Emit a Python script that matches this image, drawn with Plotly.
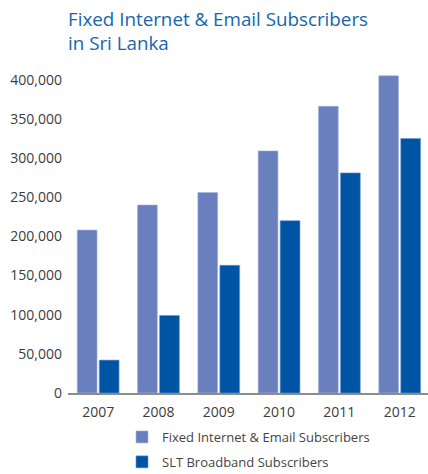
import plotly.graph_objects as go

# Subscriber counts by year
years = ["2007", "2008", "2009", "2010", "2011", "2012"]
fixed_internet = [208000, 240000, 256000, 309000, 366000, 405000]
slt_broadband = [42000, 99000, 163000, 220000, 281000, 325000]
y_ticks = [0, 50000, 100000, 150000, 200000, 250000, 300000, 350000, 400000]
y_tick_labels = ["0", "50,000", "100,000", "150,000", "200,000",
                 "250,000", "300,000", "350,000", "400,000"]

FONT = "Open Sans"
W, H = 428, 474
L, R, T, B = 68, 0, 64, 81
PW, PH = W - L - R, H - T - B


def px_x(px):
    """Horizontal pixel position -> paper fraction."""
    return (px - L) / PW


def px_y(py):
    """Vertical pixel position (from top) -> paper fraction."""
    return (H - B - py) / PH


fig = go.Figure()
fig.add_trace(go.Bar(
    x=years, y=fixed_internet, name="Fixed Internet & Email Subscribers",
    marker=dict(color="#6a7fbd", line=dict(color="#a7b4dc", width=0.6)),
    legendgroup="a",
))
fig.add_trace(go.Bar(
    x=years, y=slt_broadband, name="SLT Broadband Subscribers",
    marker=dict(color="#0054a4", line=dict(color="#6f96cc", width=0.6)),
    legendgroup="b",
))

fig.update_layout(
    width=W, height=H,
    margin=dict(l=L, r=R, t=T, b=B, autoexpand=False),
    paper_bgcolor="white", plot_bgcolor="white",
    barmode="group", bargap=0.27, bargroupgap=0.1,
    font=dict(family=FONT, size=14, color="#3c3c3c"),
    title=dict(
        text="Fixed Internet & Email Subscribers<br>in Sri Lanka",
        font=dict(family=FONT, size=18.8, color="#1565b0"),
        xref="container", yref="container",
        x=L / W, xanchor="left",
        y=1 - 26 / H, yanchor="top",
    ),
    showlegend=True,
    legend=dict(
        xref="paper", yref="paper",
        x=px_x(122), xanchor="left",
        y=px_y(422), yanchor="top",
        font=dict(family=FONT, size=13, color="#444444"),
        tracegroupgap=5,
        bgcolor="rgba(0,0,0,0)",
    ),
    xaxis=dict(
        range=[-0.5, 5.47],
        showline=True, linecolor="#8c8c8c", linewidth=1.5,
        ticks="", showgrid=False, zeroline=False,
        ticklabelstandoff=5,
        tickfont=dict(size=14, color="#3c3c3c"),
    ),
    yaxis=dict(
        range=[0, 420000],
        tickvals=y_ticks, ticktext=y_tick_labels,
        showline=False, showgrid=False, zeroline=False,
        ticks="", ticklabelstandoff=5,
        tickfont=dict(size=14, color="#3c3c3c"),
    ),
)

fig.write_html("out.html")
